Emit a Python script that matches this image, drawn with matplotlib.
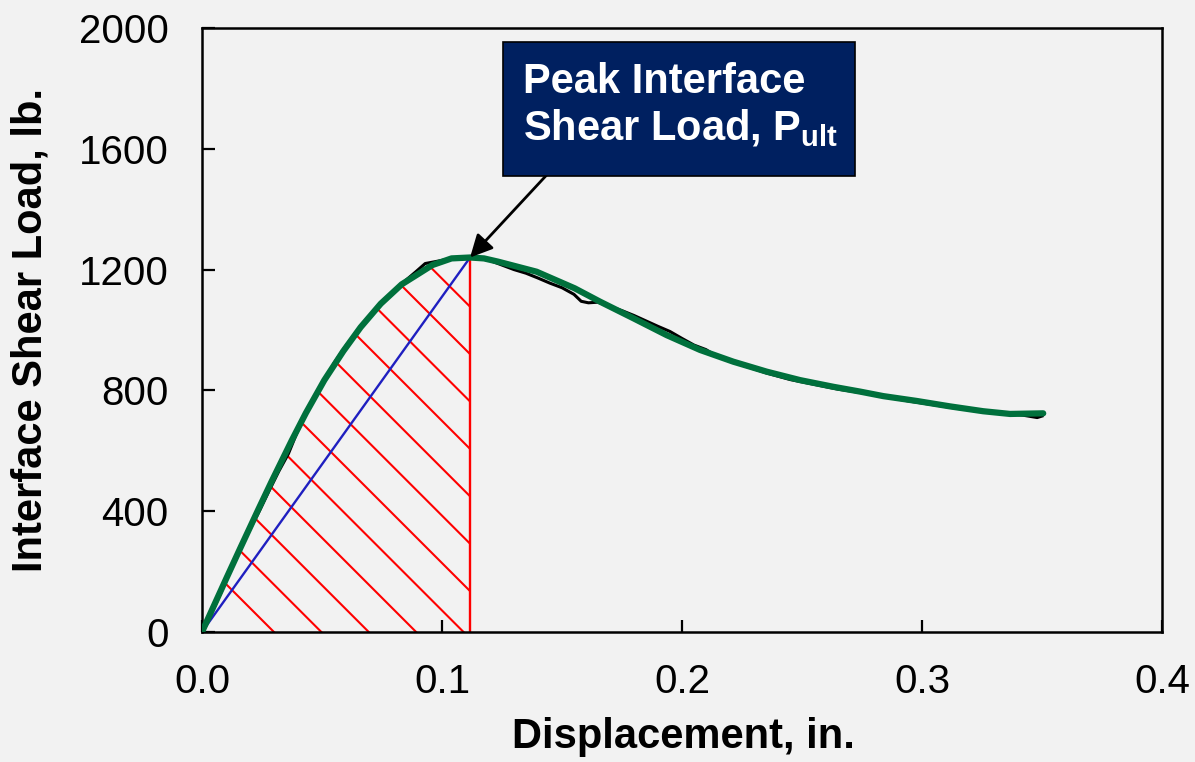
"""
Interface shear load vs displacement
"""

import numpy as np
import matplotlib.pyplot as plt
from matplotlib.patches import Polygon, Rectangle

plt.rcParams['font.family'] = ['Liberation Sans', 'DejaVu Sans']
plt.rcParams['mathtext.fontset'] = 'custom'
plt.rcParams['mathtext.rm'] = 'Liberation Sans:bold'
plt.rcParams['mathtext.it'] = 'Liberation Sans:bold'
plt.rcParams['mathtext.bf'] = 'Liberation Sans:bold'

# fitted curve (green)
fit_x = [0, 0.0103, 0.0161, 0.0235, 0.029, 0.0374, 0.0433, 0.0510, 0.0589, 0.0661,
         0.0745, 0.0832, 0.0960, 0.1040, 0.1117, 0.1175, 0.1235, 0.1394, 0.1553,
         0.1658, 0.1797, 0.1936, 0.2075, 0.2214, 0.2353, 0.2492, 0.2630, 0.2742,
         0.2839, 0.2978, 0.3117, 0.3255, 0.3367, 0.3505]
fit_y = [0, 180, 280, 406, 498, 634, 725, 834, 930, 1009,
         1087, 1151, 1215, 1237, 1240, 1237, 1226, 1193, 1138,
         1094, 1039, 983, 934, 895, 862, 834, 812, 796,
         781, 765, 747, 731, 722, 724]

# measured data (black)
raw_x = [0, 0.004, 0.008, 0.012, 0.016, 0.020, 0.024, 0.028, 0.032, 0.036, 0.040,
         0.045, 0.050, 0.055, 0.060, 0.065, 0.070, 0.075, 0.080, 0.085, 0.089,
         0.093, 0.097, 0.101, 0.105, 0.110, 0.115, 0.120, 0.125, 0.130, 0.135,
         0.140, 0.145, 0.150, 0.155, 0.158, 0.161, 0.165, 0.170, 0.175, 0.180,
         0.185, 0.190, 0.195, 0.200, 0.205, 0.210, 0.213, 0.218, 0.225, 0.235,
         0.245, 0.255, 0.265, 0.275, 0.285, 0.295, 0.305, 0.315, 0.325, 0.335,
         0.342, 0.348, 0.350]
raw_y = [0, 62, 132, 205, 282, 340, 402, 468, 532, 590, 668,
         752, 818, 890, 948, 1000, 1045, 1088, 1128, 1165, 1192,
         1220, 1226, 1232, 1237, 1240, 1238, 1230, 1215, 1200, 1188,
         1172, 1155, 1140, 1118, 1095, 1090, 1092, 1078, 1064, 1048,
         1030, 1012, 995, 972, 950, 935, 920, 905, 884, 858,
         836, 820, 804, 792, 778, 764, 752, 740, 733, 725,
         718, 710, 715]

peak_x, peak_y = 0.1117, 1240

xticks = [0.0, 0.1, 0.2, 0.3, 0.4]
yticks = [0, 400, 800, 1200, 1600, 2000]

bg = '#F2F2F2'
fig = plt.figure(figsize=(11.95, 7.62), dpi=100, facecolor=bg)
ax = fig.add_axes([0.169, 0.1706, 0.8034, 0.7927], facecolor=bg)
ax.set_xlim(0, 0.4)
ax.set_ylim(0, 2000)

# hatch lines under the curve up to the peak, clipped to that region
ix = np.searchsorted(fit_x, peak_x)
verts = list(zip(fit_x[:ix + 1], fit_y[:ix + 1])) + [(peak_x, 0), (0, 0)]
region = Polygon(verts, closed=True, transform=ax.transData)
w_px = fig.get_figwidth() * fig.dpi * 0.8034
h_px = fig.get_figheight() * fig.dpi * 0.7927
px_x = w_px / 0.4
px_y = h_px / 2000
for s in np.arange(72, 600, 47.4):
    ln, = ax.plot([0, s / px_x], [s / px_y, 0], color='red', lw=1.5, zorder=2)
    ln.set_clip_path(region)

ax.plot([peak_x, peak_x], [0, peak_y], color='red', lw=1.7, zorder=2)
ax.plot([0, peak_x], [0, peak_y], color='#1F1FC0', lw=1.7, zorder=3)
ax.plot(raw_x, raw_y, color='black', lw=2.2, zorder=4)
ax.plot(fit_x, fit_y, color='#00703C', lw=4.5, zorder=5,
        solid_capstyle='round', solid_joinstyle='round')

# callout
ax.annotate('', xy=(peak_x, peak_y), xytext=(0.1436, 1513),
            arrowprops=dict(arrowstyle='-|>', color='black', lw=2.0,
                            mutation_scale=34, shrinkA=0, shrinkB=0),
            zorder=6)
ax.add_patch(Rectangle((0.1254, 1510), 0.1467, 443, facecolor='#002060',
                       edgecolor='black', lw=1.2, clip_on=False, zorder=7))
ax.text(0.1338, 1785, 'Peak Interface', color='white', fontsize=30,
        fontweight='bold', va='baseline', zorder=8)
ax.text(0.1338, 1629, r'Shear Load, P$_{\mathrm{ult}}$', color='white',
        fontsize=30, fontweight='bold', va='baseline', zorder=8)

ax.set_xticks(xticks)
ax.set_xticklabels([f'{t:.1f}' for t in xticks])
ax.set_yticks(yticks)
ax.set_yticklabels([str(t) for t in yticks])
ax.tick_params(axis='x', direction='in', length=8.6, width=1.6, labelsize=29, pad=22)
ax.tick_params(axis='y', direction='in', length=9.4, width=1.6, labelsize=29, pad=24)
for sp in ax.spines.values():
    sp.set_linewidth(1.8)
    sp.set_color('black')

ax.set_xlabel('Displacement, in.', fontsize=30, fontweight='bold')
ax.set_ylabel('Interface Shear Load, lb.', fontsize=30, fontweight='bold')
ax.xaxis.set_label_coords(0.501, -0.14)
ax.yaxis.set_label_coords(-0.158, 0.5)

fig.savefig('out.png', dpi=100, facecolor=bg)
